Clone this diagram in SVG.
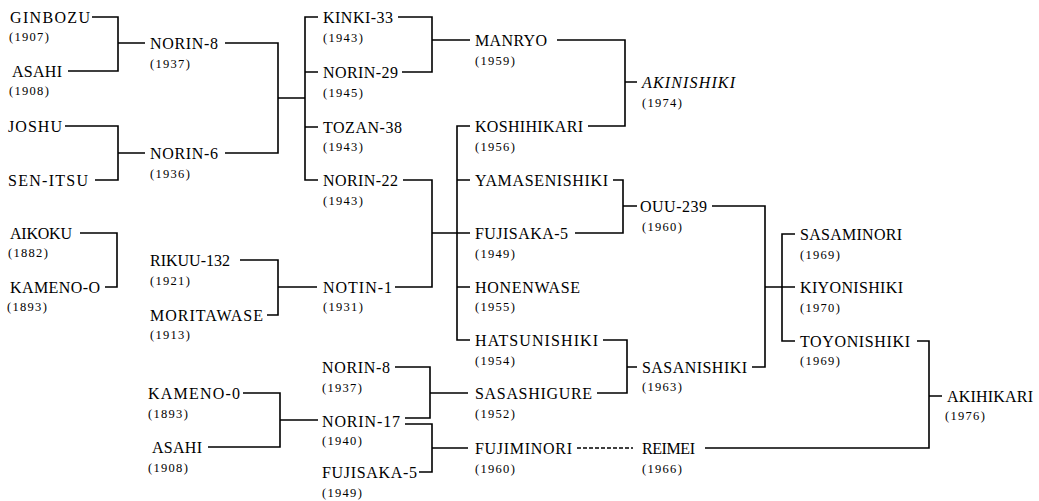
<svg xmlns="http://www.w3.org/2000/svg" width="1039" height="501" viewBox="0 0 1039 501">
<style>
text{font-family:"Liberation Serif","Times New Roman",serif;fill:#000}
.n{font-size:16px}
.y{font-size:12.5px;letter-spacing:1.3px}
.i{font-style:italic}
#connectors path{fill:none;stroke:#000;stroke-width:1.6}
#connectors .d{stroke-dasharray:4 2}
</style>
<rect width="1039" height="501" fill="#fff"/>
<g id="connectors">
<path d="M92,17H118V71H68M118,43H145"/>
<path d="M65,126H118V180H95M118,153H145"/>
<path d="M80,233H117V287H105"/>
<path d="M225,43H278V153H225M278,98H305"/>
<path d="M318,17H305V180H318M305,72H318M305,127H318"/>
<path d="M398,17H432V72H402M432,40H470"/>
<path d="M557,40H625V126H588M625,82H637"/>
<path d="M403,180H432V287H395M432,233H470"/>
<path d="M470,126H457V340H470M457,180H470M457,287H470"/>
<path d="M240,260H278V315H267M278,287H317"/>
<path d="M613,180H623V233H575M623,206H637"/>
<path d="M712,206H765V367H752M765,287H795"/>
<path d="M795,234H782V341H795"/>
<path d="M603,340H627V393H597M627,367H637"/>
<path d="M917,341H929V448H705M929,396H942"/>
<path class="d" d="M577,448H633"/>
<path d="M395,367H430V418H405M430,393H468"/>
<path d="M405,424H432V472H419M432,448H468"/>
<path d="M243,393H280V447H208M280,420H318"/>
</g>
<g id="ginbozu"><text class="n" x="10" y="22.5" textLength="80">GINBOZU</text><text class="y" x="9" y="41">(1907)</text></g>
<g id="asahi-top"><text class="n" x="12" y="76.5" textLength="50">ASAHI</text><text class="y" x="9" y="95">(1908)</text></g>
<g id="joshu"><text class="n" x="8" y="131.5" textLength="54">JOSHU</text></g>
<g id="sen-itsu"><text class="n" x="8" y="185.5" textLength="80">SEN-ITSU</text></g>
<g id="aikoku"><text class="n" x="10" y="238.5" textLength="62">AIKOKU</text><text class="y" x="8" y="257">(1882)</text></g>
<g id="kameno-o-top"><text class="n" x="10" y="292.5" textLength="90">KAMENO-O</text><text class="y" x="7" y="311">(1893)</text></g>
<g id="kameno-o-bottom"><text class="n" x="148" y="398.5" textLength="92">KAMENO-0</text><text class="y" x="148" y="418">(1893)</text></g>
<g id="asahi-bottom"><text class="n" x="152" y="452.5" textLength="50">ASAHI</text><text class="y" x="148" y="472">(1908)</text></g>
<g id="norin-8-top"><text class="n" x="150" y="48.5" textLength="68">NORIN-8</text><text class="y" x="150" y="68">(1937)</text></g>
<g id="norin-6"><text class="n" x="150" y="158.5" textLength="68">NORIN-6</text><text class="y" x="150" y="178">(1936)</text></g>
<g id="rikuu-132"><text class="n" x="150" y="265.5" textLength="80">RIKUU-132</text><text class="y" x="150" y="285">(1921)</text></g>
<g id="moritawase"><text class="n" x="150" y="320.5" textLength="113">MORITAWASE</text><text class="y" x="150" y="339">(1913)</text></g>
<g id="kinki-33"><text class="n" x="323" y="22.5" textLength="70">KINKI-33</text><text class="y" x="323" y="42">(1943)</text></g>
<g id="norin-29"><text class="n" x="323" y="77.5" textLength="75">NORIN-29</text><text class="y" x="323" y="97">(1945)</text></g>
<g id="tozan-38"><text class="n" x="323" y="132.5" textLength="79">TOZAN-38</text><text class="y" x="323" y="151">(1943)</text></g>
<g id="norin-22"><text class="n" x="323" y="185.5" textLength="75">NORIN-22</text><text class="y" x="323" y="205">(1943)</text></g>
<g id="notin-1"><text class="n" x="323" y="292.5" textLength="69">NOTIN-1</text><text class="y" x="323" y="311">(1931)</text></g>
<g id="norin-8-bottom"><text class="n" x="322" y="372.5" textLength="68">NORIN-8</text><text class="y" x="322" y="392">(1937)</text></g>
<g id="norin-17"><text class="n" x="322" y="426.5" textLength="78">NORIN-17</text><text class="y" x="322" y="445">(1940)</text></g>
<g id="fujisaka-5-bottom"><text class="n" x="322" y="477.5" textLength="95">FUJISAKA-5</text><text class="y" x="322" y="497">(1949)</text></g>
<g id="manryo"><text class="n" x="475" y="45.5" textLength="72">MANRYO</text><text class="y" x="475" y="65">(1959)</text></g>
<g id="koshihikari"><text class="n" x="475" y="131.5" textLength="108">KOSHIHIKARI</text><text class="y" x="475" y="151">(1956)</text></g>
<g id="yamasenishiki"><text class="n" x="475" y="185.5" textLength="133">YAMASENISHIKI</text></g>
<g id="fujisaka-5"><text class="n" x="475" y="238.5" textLength="93">FUJISAKA-5</text><text class="y" x="475" y="258">(1949)</text></g>
<g id="honenwase"><text class="n" x="475" y="292.5" textLength="105">HONENWASE</text><text class="y" x="475" y="311">(1955)</text></g>
<g id="hatsunishiki"><text class="n" x="475" y="345.5" textLength="123">HATSUNISHIKI</text><text class="y" x="475" y="365">(1954)</text></g>
<g id="sasashigure"><text class="n" x="475" y="398.5" textLength="117">SASASHIGURE</text><text class="y" x="475" y="418">(1952)</text></g>
<g id="fujiminori"><text class="n" x="475" y="453.5" textLength="97">FUJIMINORI</text><text class="y" x="475" y="473">(1960)</text></g>
<g id="akinishiki"><text class="n i" x="642" y="87.5" textLength="93">AKINISHIKI</text><text class="y" x="642" y="107">(1974)</text></g>
<g id="ouu-239"><text class="n" x="640" y="211.5" textLength="67">OUU-239</text><text class="y" x="642" y="231">(1960)</text></g>
<g id="sasanishiki"><text class="n" x="642" y="372.5" textLength="105">SASANISHIKI</text><text class="y" x="642" y="391">(1963)</text></g>
<g id="reimei"><text class="n" x="642" y="453.5" textLength="53">REIMEI</text><text class="y" x="642" y="473">(1966)</text></g>
<g id="sasaminori"><text class="n" x="800" y="239.5" textLength="102">SASAMINORI</text><text class="y" x="800" y="259">(1969)</text></g>
<g id="kiyonishiki"><text class="n" x="800" y="292.5" textLength="103">KIYONISHIKI</text><text class="y" x="800" y="312">(1970)</text></g>
<g id="toyonishiki"><text class="n" x="800" y="346.5" textLength="110">TOYONISHIKI</text><text class="y" x="800" y="365">(1969)</text></g>
<g id="akihikari"><text class="n" x="947" y="401.5" textLength="86">AKIHIKARI</text><text class="y" x="945" y="420">(1976)</text></g>
</svg>
